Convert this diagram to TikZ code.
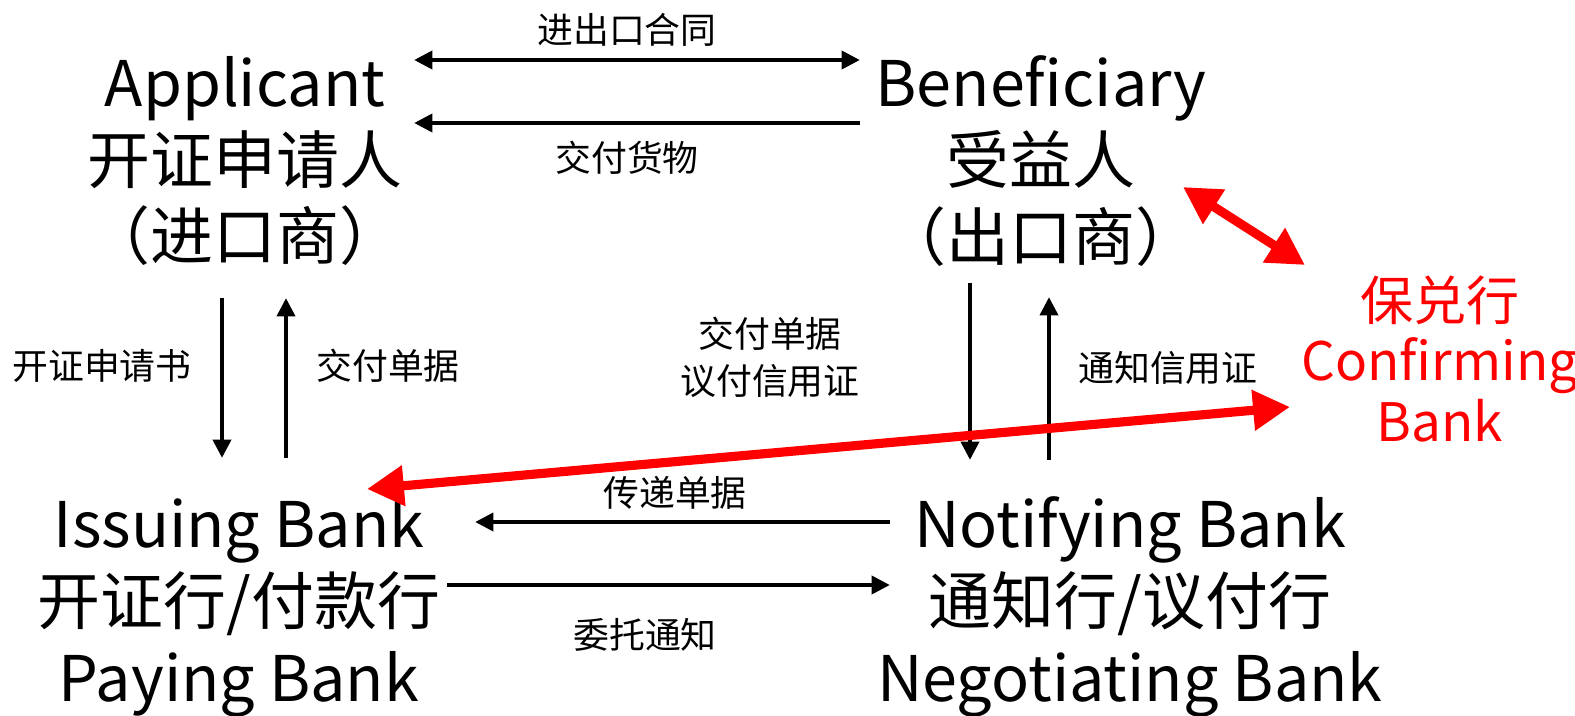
\documentclass[tikz,border=0pt]{standalone}
\usepackage{fontspec}
\setmainfont{Noto Sans CJK SC}
\usetikzlibrary{arrows.meta}

\newcommand{\partyfont}{\fontsize{17.9pt}{21.9pt}\selectfont}
\newcommand{\confirmfont}{\fontsize{15.1pt}{17.1pt}\selectfont}
\newcommand{\flowfont}{\fontsize{10.2pt}{13.4pt}\selectfont}

\begin{document}
\begin{tikzpicture}
		\tikzstyle {party} = [inner sep=0pt, align=center, font=\partyfont]
		\tikzstyle {note} = [inner sep=0pt, align=center, font=\flowfont]
		\tikzstyle {flow} = [line width=1.4pt, -{Triangle[length=5.2pt, width=5pt]}]
		\tikzstyle {flowboth} = [line width=1.4pt, {Triangle[length=5.2pt, width=5pt]}-{Triangle[length=5.2pt, width=5pt]}]
		\tikzstyle {confirm} = [red, line width=2.6pt, {Triangle[length=10.5pt, width=11pt]}-{Triangle[length=10.5pt, width=11pt]}]

		\useasboundingbox (0, 0) rectangle (15.75, 7.15);

		% parties
		\node[party] (app) at (2.45, 5.54) {Applicant\\开证申请人\\（进口商）};
		\node[party] (ben) at (10.41, 5.54) {Beneficiary\\受益人\\（出口商）};
		\node[party] (iss) at (2.39, 1.08) {Issuing Bank\\开证行/付款行\\Paying Bank};
		\node[party] (notif) at (11.30, 1.08) {Notifying Bank\\通知行/议付行\\Negotiating Bank};
		\node[party, red, font=\confirmfont] (conf) at (14.40, 3.56) {保兑行\\Confirming\\Bank};

		% flow labels
		\node[note] (contract) at (6.27, 6.85) {进出口合同};
		\node[note] (goods) at (6.27, 5.57) {交付货物};
		\node[note] (appform) at (1.02, 3.49) {开证申请书};
		\node[note] (docsup) at (3.88, 3.49) {交付单据};
		\node[note] (docsneg) at (7.70, 3.58) {交付单据\\议付信用证};
		\node[note] (advise) at (11.68, 3.47) {通知信用证};
		\node[note] (forward) at (6.75, 2.22) {传递单据};
		\node[note] (entrust) at (6.45, 0.80) {委托通知};

		% arrow ends
		\coordinate (appR1) at (4.14, 6.55);
		\coordinate (benL1) at (8.60, 6.55);
		\coordinate (appR2) at (4.14, 5.92);
		\coordinate (benL2) at (8.60, 5.92);
		\coordinate (appB1) at (2.22, 4.17);
		\coordinate (issT1) at (2.22, 2.57);
		\coordinate (appB2) at (2.86, 4.17);
		\coordinate (issT2) at (2.86, 2.57);
		\coordinate (benB1) at (9.70, 4.32);
		\coordinate (notT1) at (9.70, 2.55);
		\coordinate (benB2) at (10.49, 4.18);
		\coordinate (notT2) at (10.49, 2.55);
		\coordinate (notL1) at (8.90, 1.93);
		\coordinate (issR1) at (4.75, 1.93);
		\coordinate (issR2) at (4.47, 1.30);
		\coordinate (notL2) at (8.90, 1.30);
		\coordinate (benC) at (11.83, 5.28);
		\coordinate (confB) at (13.05, 4.50);
		\coordinate (issC) at (3.67, 2.26);
		\coordinate (confI) at (12.90, 3.08);

		\draw[flowboth] (appR1) -- (benL1);
		\draw[flow] (benL2) -- (appR2);
		\draw[flow] (appB1) -- (issT1);
		\draw[flow] (issT2) -- (appB2);
		\draw[flow] (benB1) -- (notT1);
		\draw[flow] (notT2) -- (benB2);
		\draw[flow] (notL1) -- (issR1);
		\draw[flow] (issR2) -- (notL2);

		\draw[confirm] (benC) -- (confB);
		\draw[confirm] (issC) -- (confI);

	\end{tikzpicture}
\end{document}
